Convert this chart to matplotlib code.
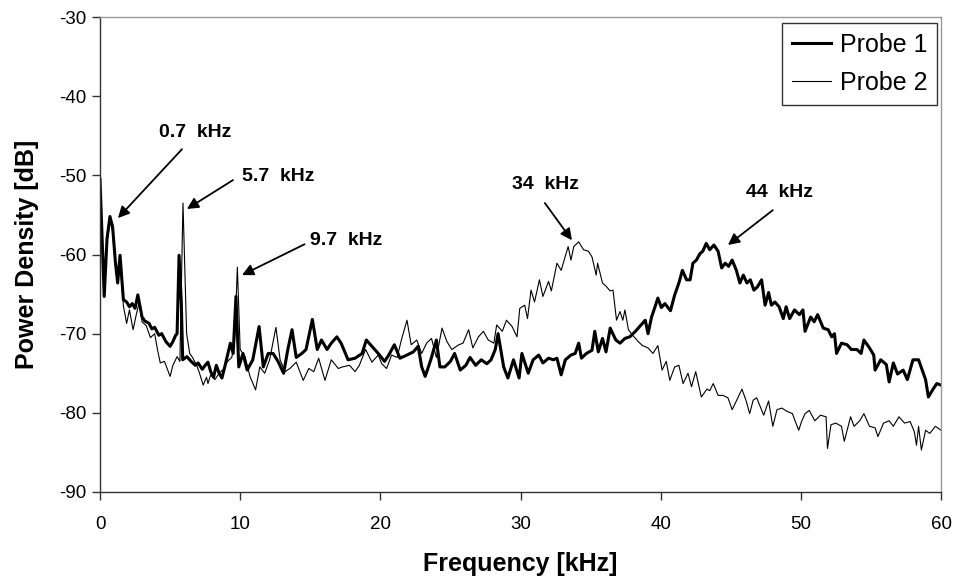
import matplotlib
matplotlib.use("Agg")
import matplotlib.pyplot as plt

plt.rcParams['font.family'] = ['Liberation Sans', 'DejaVu Sans']
plt.rcParams['axes.unicode_minus'] = False

# ---- data ----
p1_freq = [0.0, 0.3, 0.5, 0.71, 0.9, 1.1, 1.26, 1.43, 1.67, 1.9, 2.1, 2.3, 2.5, 2.7, 3.0, 3.2, 3.5, 3.7, 3.9,
           4.2, 4.4, 4.7, 5.0, 5.2, 5.4, 5.5, 5.64, 5.8, 5.9, 6.2, 6.5, 6.8, 7.0, 7.3, 7.5, 7.7, 7.9, 8.1,
           8.3, 8.5, 8.7, 8.9, 9.1, 9.3, 9.5, 9.7, 9.9, 10.2, 10.5, 10.9, 11.35, 11.65, 12.0, 12.35, 12.7,
           13.1, 13.4, 13.7, 14.0, 14.4, 14.7, 15.15, 15.5, 15.8, 16.2, 16.5, 16.9, 17.2, 17.7, 18.2, 18.7,
           19.0, 19.4, 19.85, 20.3, 20.6, 21.0, 21.4, 21.9, 22.35, 22.7, 22.95, 23.2, 23.6, 24.0, 24.25,
           24.6, 25.0, 25.3, 25.7, 26.1, 26.4, 26.8, 27.2, 27.6, 27.9, 28.2, 28.4, 28.8, 29.1, 29.5, 29.9,
           30.1, 30.55, 30.9, 31.3, 31.6, 32.0, 32.35, 32.6, 32.9, 33.2, 33.6, 33.9, 34.15, 34.35, 34.7,
           35.1, 35.3, 35.55, 35.85, 36.1, 36.4, 36.8, 37.1, 37.45, 37.8, 38.2, 38.5, 38.9, 39.1, 39.35,
           39.6, 39.8, 40.05, 40.3, 40.7, 41.0, 41.3, 41.55, 41.85, 42.1, 42.3, 42.55, 42.8, 43.0, 43.25,
           43.5, 43.8, 44.1, 44.35, 44.6, 44.85, 45.1, 45.4, 45.65, 45.9, 46.15, 46.4, 46.65, 46.9, 47.2,
           47.45, 47.7, 47.9, 48.15, 48.45, 48.75, 48.95, 49.2, 49.55, 49.9, 50.15, 50.3, 50.7, 50.95,
           51.2, 51.6, 51.95, 52.2, 52.4, 52.55, 52.9, 53.3, 53.6, 54.0, 54.3, 54.5, 54.9, 55.2, 55.3,
           55.7, 56.1, 56.3, 56.6, 56.9, 57.3, 57.6, 58.0, 58.4, 58.7, 58.9, 59.1, 59.4, 59.7, 60.0]
p1_db = [-50.5, -65.3, -58.0, -55.2, -56.5, -61.0, -63.6, -60.1, -65.7, -66.0, -66.6, -66.2, -66.8, -65.1,
         -67.9, -68.4, -68.7, -69.4, -69.2, -70.2, -70.0, -71.0, -71.6, -71.0, -70.2, -70.0, -60.1, -66.0,
         -73.3, -72.9, -73.5, -74.0, -73.7, -74.5, -74.0, -73.6, -74.8, -75.5, -74.0, -75.0, -75.6, -74.2,
         -72.7, -71.2, -72.5, -65.3, -74.2, -72.5, -74.6, -73.3, -69.1, -74.2, -72.5, -72.5, -73.5, -75.0,
         -72.0, -69.5, -73.0, -72.5, -72.0, -68.2, -72.0, -70.8, -72.0, -71.2, -70.4, -71.2, -73.3, -73.1,
         -72.5, -70.8, -71.6, -72.5, -73.5, -72.7, -71.4, -73.1, -72.7, -72.3, -71.6, -74.2, -75.4, -73.3,
         -70.8, -74.2, -74.2, -73.5, -72.5, -74.6, -74.0, -73.0, -74.0, -73.3, -73.8, -73.3, -72.0, -70.0,
         -74.2, -75.6, -73.3, -75.6, -72.5, -75.0, -73.3, -72.7, -73.7, -73.1, -73.3, -73.1, -75.2, -73.3,
         -72.7, -72.5, -71.2, -73.1, -72.5, -72.1, -69.7, -72.3, -70.6, -72.3, -69.3, -70.8, -71.2, -70.6,
         -70.4, -69.7, -69.1, -68.3, -70.0, -67.9, -66.6, -65.5, -66.7, -66.2, -67.1, -65.1, -63.6, -62.0,
         -63.2, -63.2, -61.1, -60.7, -59.9, -59.6, -58.6, -59.4, -58.8, -59.6, -61.7, -61.1, -61.5, -60.7,
         -62.0, -63.6, -62.6, -63.6, -63.2, -64.5, -64.1, -63.2, -66.4, -64.8, -66.4, -66.0, -66.6, -68.1,
         -66.6, -68.1, -67.0, -67.6, -67.0, -69.7, -67.9, -68.5, -67.6, -69.3, -69.5, -70.4, -70.0, -72.5,
         -71.2, -71.4, -72.0, -72.0, -72.5, -70.8, -71.8, -72.7, -74.6, -73.3, -73.9, -76.1, -73.7, -75.1,
         -74.6, -75.8, -73.3, -73.3, -74.8, -75.8, -78.0, -77.1, -76.3, -76.5]

p2_freq = [0.0, 0.3, 0.5, 0.71, 0.9, 1.1, 1.26, 1.43, 1.67, 1.9, 2.1, 2.36, 2.6, 2.8, 3.0, 3.3, 3.6, 3.9,
           4.1, 4.3, 4.6, 5.0, 5.2, 5.5, 5.7, 5.92, 6.18, 6.4, 6.6, 6.9, 7.1, 7.36, 7.6, 7.7, 7.9, 8.2,
           8.5, 8.8, 9.1, 9.4, 9.6, 9.8, 10.0, 10.35, 10.7, 11.1, 11.4, 11.75, 12.1, 12.55, 12.85, 13.2,
           13.55, 14.0, 14.5, 14.9, 15.25, 15.6, 16.05, 16.5, 17.0, 17.3, 17.8, 18.2, 18.5, 18.95, 19.4,
           19.85, 20.1, 20.45, 20.8, 21.2, 21.5, 21.9, 22.2, 22.6, 22.95, 23.3, 23.65, 24.0, 24.4, 24.75,
           25.1, 25.6, 25.9, 26.3, 26.6, 27.0, 27.35, 27.7, 28.1, 28.3, 28.7, 29.0, 29.4, 29.75, 29.95,
           30.3, 30.5, 30.75, 31.0, 31.35, 31.6, 32.0, 32.2, 32.6, 32.9, 33.15, 33.4, 33.6, 33.8, 34.15,
           34.5, 34.85, 35.1, 35.4, 35.5, 35.85, 36.1, 36.4, 36.6, 36.85, 37.1, 37.3, 37.45, 37.7, 38.0,
           38.4, 38.7, 39.1, 39.45, 39.8, 40.1, 40.4, 40.65, 41.0, 41.3, 41.6, 41.95, 42.2, 42.5, 42.9,
           43.3, 43.5, 43.75, 44.1, 44.45, 44.8, 45.1, 45.4, 45.8, 46.1, 46.35, 46.6, 46.85, 47.1, 47.35,
           47.7, 48.0, 48.3, 48.65, 49.0, 49.4, 49.65, 49.85, 50.05, 50.3, 50.6, 51.0, 51.4, 51.8, 51.9,
           52.15, 52.5, 52.9, 53.1, 53.55, 53.8, 54.2, 54.5, 54.9, 55.3, 55.5, 55.9, 56.3, 56.6, 57.0,
           57.4, 57.8, 58.1, 58.25, 58.4, 58.6, 58.9, 59.2, 59.6, 60.0]
p2_db = [-51.0, -64.5, -58.5, -55.8, -57.0, -61.5, -63.5, -61.0, -66.5, -68.7, -67.0, -69.5, -67.5, -66.0,
         -68.5, -69.0, -70.5, -70.0, -72.0, -73.7, -73.5, -75.4, -74.0, -72.9, -73.5, -53.5, -70.0, -72.5,
         -73.0, -74.0, -75.0, -76.5, -75.5, -76.3, -75.2, -75.8, -75.0, -74.5, -73.5, -73.0, -71.0, -61.6,
         -72.0, -72.9, -75.4, -77.1, -74.2, -75.0, -73.3, -69.2, -73.3, -74.8, -74.4, -73.6, -75.9, -74.4,
         -74.8, -73.1, -75.9, -73.3, -74.4, -74.2, -74.0, -74.8, -74.0, -72.0, -73.6, -72.7, -73.8, -74.4,
         -72.7, -73.0, -70.8, -68.3, -71.4, -70.8, -72.5, -71.2, -70.6, -73.0, -69.3, -71.0, -72.0, -71.4,
         -71.2, -69.5, -71.8, -70.4, -69.7, -70.8, -71.2, -68.9, -69.7, -68.3, -69.1, -70.4, -66.8, -66.4,
         -68.1, -64.5, -66.0, -63.2, -65.3, -63.4, -64.6, -61.1, -62.0, -60.5, -59.0, -60.7, -59.0, -58.4,
         -59.4, -59.6, -60.3, -62.6, -61.1, -63.6, -64.0, -64.6, -64.5, -68.3, -67.2, -68.3, -67.0, -69.5,
         -70.2, -71.0, -71.5, -71.8, -72.5, -71.5, -74.6, -73.5, -75.9, -74.2, -74.0, -76.3, -75.0, -76.7,
         -74.8, -78.0, -77.0, -77.2, -76.3, -77.8, -77.8, -78.1, -79.6, -78.5, -77.0, -78.5, -80.1, -78.4,
         -78.1, -79.2, -80.3, -78.5, -81.7, -79.6, -79.4, -79.8, -80.1, -81.3, -82.2, -81.1, -80.1, -79.7,
         -81.0, -80.3, -80.5, -84.5, -81.5, -81.3, -81.7, -83.6, -80.5, -81.7, -81.0, -80.1, -81.7, -81.9,
         -83.0, -81.3, -81.0, -81.7, -80.5, -81.3, -81.1, -82.4, -84.1, -81.7, -84.7, -82.2, -82.6, -81.7,
         -82.2]

series_labels = ["Probe 1", "Probe 2"]
x_ticks = [0, 10, 20, 30, 40, 50, 60]
y_ticks = [-90, -80, -70, -60, -50, -40, -30]

# annotations: label, arrow head (f, dB), arrow tail (f, dB), text centre (f, dB)
ann_labels = ["0.7  kHz", "5.7  kHz", "9.7  kHz", "34  kHz", "44  kHz"]
ann_head = [(1.28, -55.4), (6.2, -54.25), (10.13, -62.6), (33.67, -58.2), (44.8, -58.8)]
ann_tail = [(5.85, -46.7), (9.49, -50.6), (14.6, -58.7), (31.74, -53.5), (48.0, -54.4)]
ann_text = [(6.78, -44.6), (12.7, -50.2), (17.55, -58.2), (31.8, -51.2), (48.5, -52.2)]

# ---- figure ----
W, H = 955, 581
fig = plt.figure(figsize=(W / 100, H / 100), dpi=100)
ax = fig.add_axes([100 / W, 1 - 492 / H, 841 / W, 475 / H])

ax.plot(p1_freq, p1_db, color='black', lw=2.2, label=series_labels[0], solid_joinstyle='round')
ax.plot(p2_freq, p2_db, color='black', lw=0.8, label=series_labels[1])

ax.set_xlim(0, 60)
ax.set_ylim(-90, -30)
ax.set_xticks(x_ticks)
ax.set_yticks(y_ticks)
ax.tick_params(axis='both', direction='out', length=6, width=1, color='#333333',
               labelsize=13.5, pad=4)
ax.tick_params(axis='x', pad=11)

for side in ['left', 'bottom']:
    ax.spines[side].set_color('#333333')
    ax.spines[side].set_linewidth(1)
for side in ['top', 'right']:
    ax.spines[side].set_color('#999999')
    ax.spines[side].set_linewidth(1)

ax.set_xlabel("Frequency [kHz]", fontsize=18, fontweight='bold', labelpad=14)
ax.set_ylabel("Power Density [dB]", fontsize=18, fontweight='bold', labelpad=14)

for lab, head, tail, txt in zip(ann_labels, ann_head, ann_tail, ann_text):
    ax.annotate('', xy=head, xytext=tail,
                arrowprops=dict(arrowstyle='-|>', color='black', lw=1.3,
                                mutation_scale=17, shrinkA=0, shrinkB=0))
    ax.text(txt[0], txt[1], lab, fontsize=14, fontweight='bold', ha='center', va='center')

leg = ax.legend(loc='upper right', bbox_to_anchor=(937 / W, 1 - 23 / H),
                bbox_transform=fig.transFigure, fontsize=18, frameon=True, fancybox=False,
                edgecolor='black', borderaxespad=0, handlelength=1.55,
                handletextpad=0.35, borderpad=0.4, labelspacing=0.55)
leg.get_frame().set_linewidth(1)

fig.savefig('out.png', dpi=100)
